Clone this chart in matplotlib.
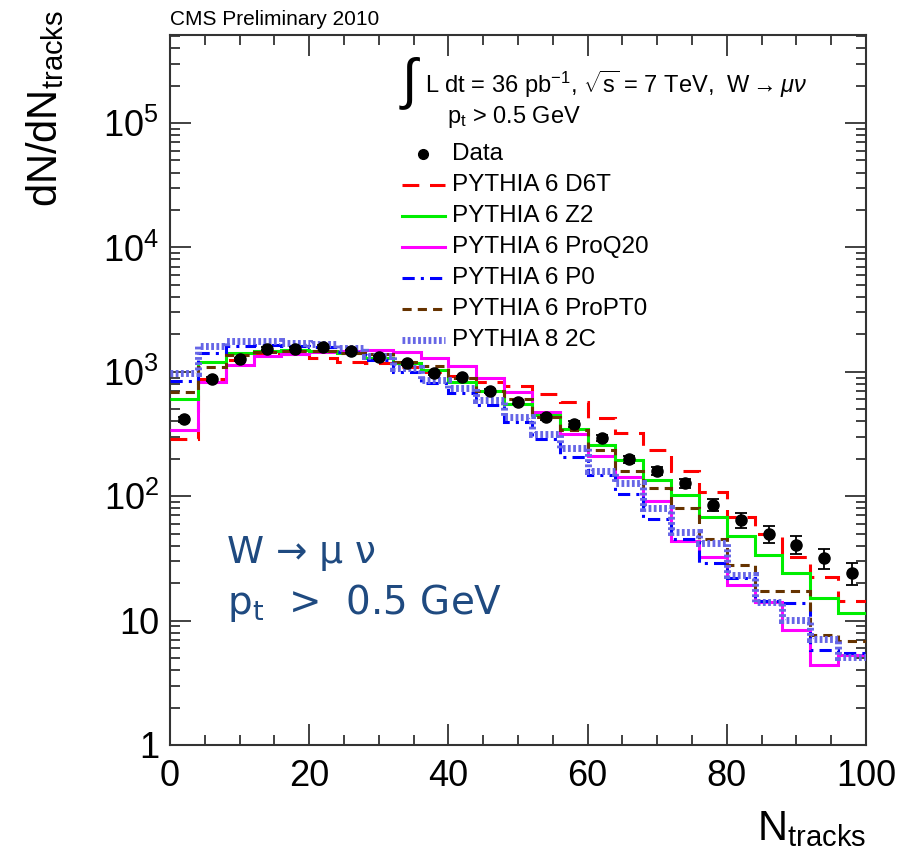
import numpy as np
import matplotlib
matplotlib.use('Agg')
import matplotlib.pyplot as plt
from matplotlib.lines import Line2D
from matplotlib.ticker import MultipleLocator, LogLocator, FixedLocator, FuncFormatter, NullFormatter

plt.rcParams['font.family'] = ['Liberation Sans', 'DejaVu Sans']
plt.rcParams['mathtext.fontset'] = 'custom'
plt.rcParams['mathtext.rm'] = 'Liberation Sans'
plt.rcParams['mathtext.it'] = 'Liberation Sans:italic'
plt.rcParams['mathtext.bf'] = 'Liberation Sans:bold'

# ---------------- data ----------------
bin_edges = list(range(0, 101, 4))
data_values = [415, 875, 1260, 1535, 1535, 1590, 1462, 1315, 1172, 973, 903, 697, 571, 431,
               383, 293, 198, 160, 127, 85, 64.4, 50, 40.8, 31.7, 24]
data_errors = [20, 30, 36, 39, 40, 40, 38, 36, 34, 31, 30, 26, 24, 21, 20, 17, 14, 13, 11,
               9.2, 8.5, 8, 6.8, 5.8, 4.8]
d6t = [288, 880, 1250, 1380, 1400, 1300, 1200, 1180, 1100, 1000, 920, 830, 765, 665, 575,
       425, 322, 235, 160, 108, 68.5, 49.5, 32.7, 22.5, 14.3]
z2 = [610, 1200, 1420, 1480, 1500, 1480, 1420, 1300, 1180, 1033, 826, 700, 550, 450, 344,
      258, 195, 135, 102, 68.5, 48.3, 33.7, 24, 15.3, 11.6]
proq20 = [341, 825, 1134, 1330, 1400, 1440, 1480, 1510, 1450, 1290, 1105, 885, 690, 478, 318,
          210, 142, 91, 43.5, 32.7, 19.3, 14, 8.4, 4.4, 5.3]
p0 = [850, 1420, 1600, 1650, 1620, 1580, 1450, 1250, 1000, 820, 680, 540, 395, 290, 207,
      148, 105, 65, 45, 29, 22, 14.5, 13.8, 5.8, 5.5]
propt0 = [685, 1100, 1365, 1450, 1480, 1470, 1420, 1380, 1190, 1110, 900, 700, 600, 435, 341,
          235, 160, 117, 80, 45, 28.2, 17.3, 17.3, 7.6, 6.9]
p8_2c = [975, 1600, 1770, 1770, 1700, 1680, 1550, 1330, 1065, 860, 735, 593, 436, 318, 242,
         160, 127, 80, 52, 41.8, 23.3, 14.1, 10.1, 7.1, 5.1]

labels = ['PYTHIA 6 D6T', 'PYTHIA 6 Z2', 'PYTHIA 6 ProQ20', 'PYTHIA 6 P0',
          'PYTHIA 6 ProPT0', 'PYTHIA 8 2C']
y_ticks = [1, 10, 100, 1000, 10000, 100000]
x_ticks = [0, 20, 40, 60, 80, 100]

# ---------------- styles ----------------
styles = [
    dict(color='#ff0000', lw=2.2, ls=(0, (5.5, 3.5))),
    dict(color='#00ee00', lw=2.2, ls='-'),
    dict(color='#ff00ff', lw=2.2, ls='-'),
    dict(color='#0000ff', lw=2.2, ls=(0, (4, 2, 1, 2))),
    dict(color='#663300', lw=2.2, ls=(0, (3, 2))),
    dict(color='#6666e6', lw=5, ls=(0, (0.4, 0.35))),
]
series = [d6t, z2, proq20, p0, propt0, p8_2c]

W, H = 902, 856
def P(x, y):
    return (x / W, 1 - y / H)

fig = plt.figure(figsize=(W / 100, H / 100), dpi=100)
ax = fig.add_axes([170 / W, 1 - 745 / H, (866 - 170) / W, (745 - 35) / H])

edges = np.array(bin_edges, dtype=float)
centers = 0.5 * (edges[:-1] + edges[1:])

for vals, st, z in zip(series, styles, [3, 4, 3, 4, 4, 5]):
    ax.stairs(vals, edges, baseline=None, color=st['color'], linewidth=st['lw'],
              linestyle=st['ls'], zorder=z)

ax.errorbar(centers, data_values, yerr=data_errors, fmt='o', color='black', ms=8,
            elinewidth=1.3, capsize=4, capthick=1.3, zorder=10)

ax.set_yscale('log')
ax.set_xlim(0, 100)
ax.set_ylim(1, 5.1e5)

ax.xaxis.set_major_locator(FixedLocator(x_ticks))
ax.xaxis.set_minor_locator(MultipleLocator(5))
ax.yaxis.set_major_locator(FixedLocator(y_ticks))
ax.yaxis.set_minor_locator(LogLocator(base=10, subs=np.arange(2, 10), numticks=20))
ax.yaxis.set_minor_formatter(NullFormatter())

def yfmt(v, pos):
    e = int(round(np.log10(v)))
    if e == 0:
        return '1'
    if e == 1:
        return '10'
    return r'$\mathregular{10^{%d}}$' % e

ax.yaxis.set_major_formatter(FuncFormatter(yfmt))
ax.xaxis.set_major_formatter(FuncFormatter(lambda v, p: '%d' % v))

ax.tick_params(which='both', direction='in', top=True, right=True, width=1.3, color='#333333')
ax.tick_params(which='major', length=15)
ax.tick_params(which='minor', length=7.5)
ax.tick_params(axis='x', which='major', labelsize=26, pad=10)
ax.tick_params(axis='y', which='major', labelsize=26, pad=8)
for s in ax.spines.values():
    s.set_linewidth(1.5)
    s.set_color('#333333')

# axis titles
fig.text(*P(45, 10), r'dN/dN$_\mathregular{tracks}$', rotation=90, ha='center', va='top',
         fontsize=30)
fig.text(*P(866, 840), r'N$_\mathregular{tracks}$', ha='right', va='baseline', fontsize=30)
fig.text(*P(170, 25), 'CMS Preliminary 2010', ha='left', va='baseline', fontsize=15)

# legend (manual, ROOT style)
fig.text(*P(399, 84), r'$\int$', ha='left', va='center', fontsize=40)
fig.text(*P(425, 84), r'L dt = 36 pb$^\mathregular{-1}$, $\sqrt{\mathregular{s}}$ = 7 TeV,  W$\rightarrow\mu\nu$',
         ha='left', va='center', fontsize=17)
fig.text(*P(447, 117), r'p$_\mathregular{t}$ > 0.5 GeV', ha='left', va='center', fontsize=17)
fig.add_artist(Line2D([423 / W], [1 - 154 / H], marker='o', color='black', ms=7,
                      transform=fig.transFigure))
fig.text(*P(452, 154), 'Data', ha='left', va='center', fontsize=17.5)
rows = [185, 216, 247, 278, 309, 340]
for lab, st, yy in zip(labels, styles, rows):
    fig.add_artist(Line2D([402 / W, 445 / W], [1 - yy / H, 1 - yy / H], color=st['color'],
                          linewidth=st['lw'], linestyle=st['ls'], transform=fig.transFigure))
    fig.text(*P(452, yy), lab, ha='left', va='center', fontsize=17.5)

# blue annotation
fig.text(*P(227, 563), 'W → μ ν', ha='left', va='baseline', fontsize=27,
         color='#1f4a80', family='DejaVu Sans')
fig.text(*P(227, 614), r'p$_\mathregular{t}$  >  0.5 GeV', ha='left', va='baseline', fontsize=28,
         color='#1f4a80', family='DejaVu Sans')

fig.savefig('out.png', dpi=100)
